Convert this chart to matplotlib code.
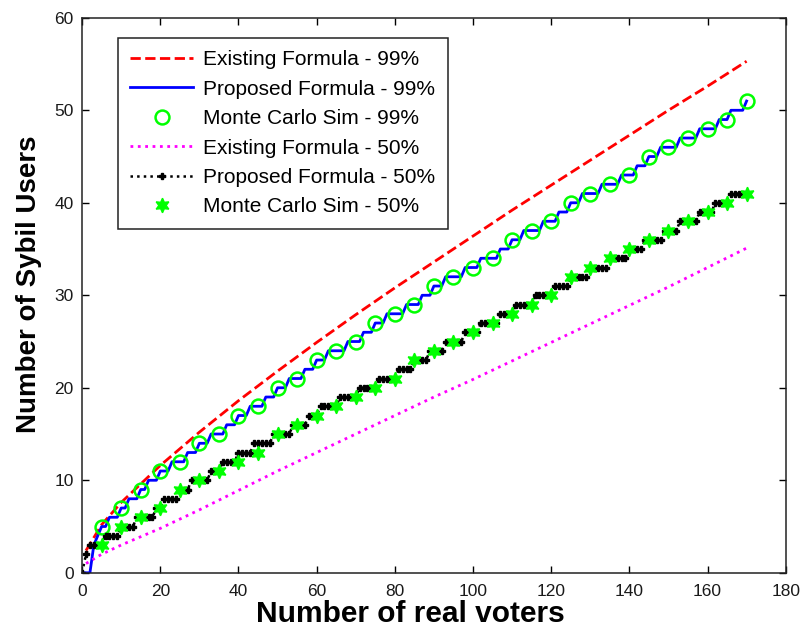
import numpy as np
import matplotlib
matplotlib.use("Agg")
import matplotlib.pyplot as plt

plt.rcParams["font.family"] = ["Liberation Sans", "DejaVu Sans"]

# existing formula, read at a handful of voter counts
exist_n = [1, 5, 10, 20, 30, 40, 50, 60, 70, 80, 90, 100, 110, 120, 130, 140, 150, 160, 170]
exist_99 = [2.4, 5.2, 7.6, 11.6, 15.2, 18.6, 21.8, 24.9, 27.9, 30.8, 33.6, 36.4,
            39.2, 41.9, 44.6, 47.3, 50.0, 52.6, 55.3]
exist_50 = [1.0, 2.0, 3.0, 4.8, 6.8, 8.9, 11.0, 13.0, 15.0, 17.0, 19.0, 20.9,
            22.9, 24.9, 26.9, 28.9, 30.9, 33.0, 35.1]

# proposed formula is integer valued: voter counts where it goes up by one
prop_99_steps = [3, 3, 3, 4, 5, 7, 10, 12, 15, 17, 20, 23, 27, 30, 33, 37, 40, 43, 47, 50,
                 53, 57, 60, 63, 68, 72, 75, 78, 83, 87, 90, 93, 98, 102, 107, 110, 113,
                 118, 122, 125, 128, 133, 138, 142, 145, 148, 153, 158, 163, 166, 170]
prop_50_steps = [1, 1, 2, 6, 10, 14, 19, 21, 25, 28, 33, 36, 40, 44, 49, 54, 58, 61, 66,
                 71, 76, 81, 85, 89, 93, 98, 102, 107, 111, 116, 121, 125, 130, 135, 140,
                 144, 149, 153, 158, 162, 166]

# monte carlo runs every 5 voters
mc_n = [5, 10, 15, 20, 25, 30, 35, 40, 45, 50, 55, 60, 65, 70, 75, 80, 85,
        90, 95, 100, 105, 110, 115, 120, 125, 130, 135, 140, 145, 150, 155, 160, 165, 170]
mc_99 = [5, 7, 9, 11, 12, 14, 15, 17, 18, 20, 21, 23, 24, 25, 27, 28, 29,
         31, 32, 33, 34, 36, 37, 38, 40, 41, 42, 43, 45, 46, 47, 48, 49, 51]
mc_50 = [3, 5, 6, 7, 9, 10, 11, 12, 13, 15, 16, 17, 18, 19, 20, 21, 23,
         24, 25, 26, 27, 28, 29, 30, 32, 33, 34, 35, 36, 37, 38, 39, 40, 41]

voters = np.arange(0, 171)
prop_99 = np.searchsorted(prop_99_steps, voters, side="right")
prop_50 = np.searchsorted(prop_50_steps, voters, side="right")

fig = plt.figure(figsize=(8.05, 6.35), dpi=100)
ax = fig.add_axes([0.102, 0.098, 0.874, 0.874])

ax.plot(exist_n, exist_99, "--", color="red", lw=2, label="Existing Formula - 99%")
ax.plot(voters, prop_99, "-", color="blue", lw=2, label="Proposed Formula - 99%")
ax.plot(mc_n, mc_99, "o", ls="none", ms=10, mfc="none", mec="#00ff00", mew=1.8,
        label="Monte Carlo Sim - 99%")
ax.plot(exist_n, exist_50, ":", color="magenta", lw=2, label="Existing Formula - 50%")
ax.plot(voters, prop_50, ":", color="black", lw=1.8, marker="P", ms=4.5,
        label="Proposed Formula - 50%")
ax.plot(mc_n, mc_50, ls="none", marker=(6, 1, 0), ms=10.5, color="#00ff00",
        label="Monte Carlo Sim - 50%")

ax.set_xlim(0, 180)
ax.set_ylim(0, 60)
ax.set_xticks(np.arange(0, 181, 20))
ax.set_yticks(np.arange(0, 61, 10))
ax.tick_params(direction="in", top=True, right=True, length=5, width=1,
               labelsize=12.5, labelcolor="#1a1a1a")
ax.tick_params(axis="x", pad=8)
ax.tick_params(axis="y", pad=6)
for sp in ax.spines.values():
    sp.set_linewidth(1.1)
    sp.set_color("#222222")

ax.set_xlabel("Number of real voters", fontsize=21.5, fontweight="bold")
ax.set_ylabel("Number of Sybil Users", fontsize=20, fontweight="bold")
ax.xaxis.set_label_coords(0.467, -0.049)
ax.yaxis.set_label_coords(-0.057, 0.519)

leg = ax.legend(loc="upper left", bbox_to_anchor=(0.051, 0.964), borderaxespad=0,
                fontsize=15, fancybox=False, framealpha=1, edgecolor="#222222",
                handlelength=3.0, handletextpad=0.5, labelspacing=0.5, borderpad=0.6)
leg.get_frame().set_linewidth(1.1)

fig.savefig("out.png", dpi=100)
